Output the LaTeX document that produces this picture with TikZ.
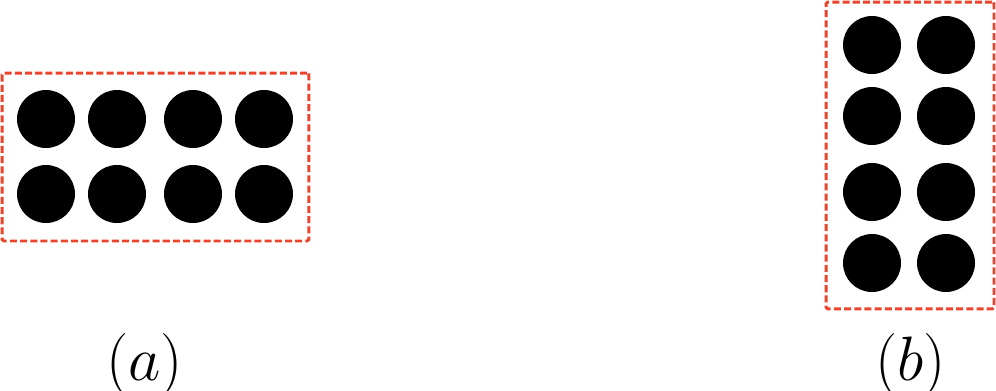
\documentclass[tikz,border=0pt]{standalone}
\usepackage{tikz}
\definecolor{framered}{RGB}{236,68,44}
\tikzset{
    dot/.style={circle, fill=black, inner sep=0pt, minimum size=1.16cm},
    framebox/.style={draw=framered, line width=1.7pt, dash pattern=on 4pt off 1.8pt,
        rounded corners=1pt, inner sep=0pt},
    caption/.style={font=\fontsize{24.88}{28}\selectfont, scale=1.435, anchor=base, inner sep=0pt}
}
\begin{document}
\begin{tikzpicture}[x=0.02cm, y=-0.02cm]
\useasboundingbox (0,0) rectangle (996,390);
% (a): two rows of four
\node[framebox, minimum width=6.14cm, minimum height=3.36cm] (frameA) at (155.5,157) {};
\node[dot] (a1) at (46,119) {};
\node[dot] (a2) at (117,119) {};
\node[dot] (a3) at (193,119) {};
\node[dot] (a4) at (264,119) {};
\node[dot] (a5) at (46,194) {};
\node[dot] (a6) at (117,194) {};
\node[dot] (a7) at (193,194) {};
\node[dot] (a8) at (264,194) {};
\node[caption] (capA) at (144.5,380) {$(a)$};
% (b): four rows of two
\node[framebox, minimum width=3.36cm, minimum height=6.14cm] (frameB) at (910,155.5) {};
\node[dot] (b1) at (872,45) {};
\node[dot] (b2) at (946,45) {};
\node[dot] (b3) at (872,116) {};
\node[dot] (b4) at (946,116) {};
\node[dot] (b5) at (872,192) {};
\node[dot] (b6) at (946,192) {};
\node[dot] (b7) at (872,263) {};
\node[dot] (b8) at (946,263) {};
\node[caption] (capB) at (910.5,380) {$(b)$};
\end{tikzpicture}
\end{document}
